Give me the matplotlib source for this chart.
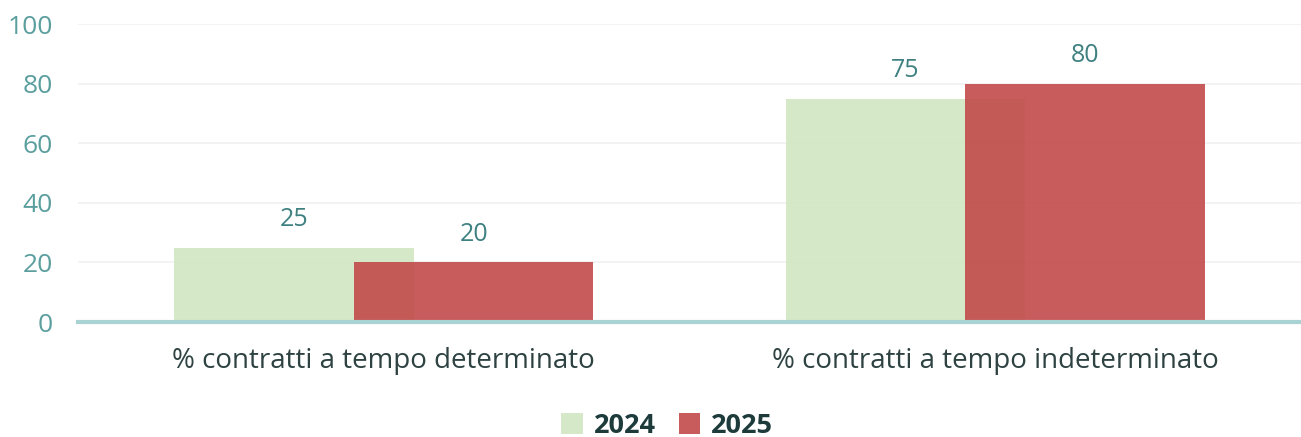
import matplotlib
matplotlib.use("Agg")
import matplotlib.pyplot as plt
import numpy as np

categories = ["% contratti a tempo determinato", "% contratti a tempo indeterminato"]
series_names = ["2024", "2025"]
values_2024 = [25, 75]
values_2025 = [20, 80]
yticks = [0, 20, 40, 60, 80, 100]

plt.rcParams['font.family'] = ['Open Sans', 'DejaVu Sans']

W, H = 1301, 437
fig = plt.figure(figsize=(W / 100, H / 100), dpi=100)
ax = fig.add_axes([78 / W, (H - 322) / H, (W - 78) / W, (322 - 24) / H])

x = np.arange(len(categories))
width = 0.392
off = 0.147
green = "#d3e8c5"
red = "#c24a4a"

b1 = ax.bar(x - off, values_2024, width, color=green, alpha=0.95, label=series_names[0], zorder=2)
b2 = ax.bar(x + off, values_2025, width, color=red, alpha=0.9, label=series_names[1], zorder=3)

for bars, vals in ((b1, values_2024), (b2, values_2025)):
    for rect, v in zip(bars, vals):
        ax.annotate(f"{v}", (rect.get_x() + rect.get_width() / 2, v),
                    xytext=(0, 11), textcoords="offset points", ha="center", va="bottom",
                    fontsize=18, color="#3f8080")

ax.set_xlim(-0.5, 1.5)
ax.set_ylim(0, 100)
ax.set_yticks(yticks)
ax.set_yticklabels([str(t) for t in yticks], fontsize=19, color="#5b9e9e")
ax.set_xticks(x)
ax.set_xticklabels(categories, fontsize=20, color="#2e4242")
ax.tick_params(axis="both", length=0)
ax.tick_params(axis="x", pad=18)
ax.tick_params(axis="y", pad=18)
for s in ["top", "right", "left"]:
    ax.spines[s].set_visible(False)
ax.spines["bottom"].set_color("#a9d3d3")
ax.spines["bottom"].set_linewidth(3)
ax.spines["bottom"].set_zorder(4)
ax.yaxis.grid(True, color="#f1f1f1", linewidth=1.2, zorder=0)
ax.set_axisbelow(True)

leg = fig.legend(handles=[b1, b2], labels=series_names, loc="center",
                 bbox_to_anchor=(667 / W, (H - 426) / H), ncol=2, frameon=False,
                 handlelength=0.8, handleheight=0.8, handletextpad=0.4, columnspacing=0.85,
                 borderpad=0, prop={"size": 19.5, "weight": "bold"})
for t in leg.get_texts():
    t.set_color("#1e3b3b")

fig.savefig("out.png", dpi=100)
